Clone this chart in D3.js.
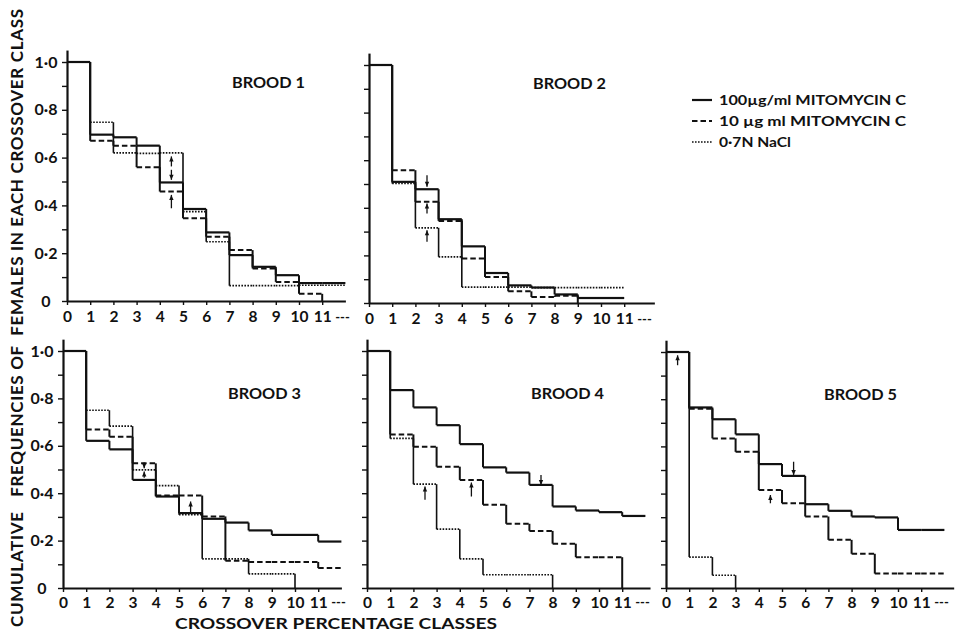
<!DOCTYPE html>
<html><head><meta charset="utf-8">
<script src="https://cdn.jsdelivr.net/npm/d3@7"></script>
<style>
body{margin:0;background:#fff;}
svg{display:block;}
text{font-family:Lato,"DejaVu Sans",sans-serif;font-weight:700;fill:#111;}
</style></head><body>
<svg id="c" width="956" height="634"></svg>
<script>
// ---------- data ----------
const classLabels = ["0","1","2","3","4","5","6","7","8","9","10","11"];
const yTickValues = [0,0.1,0.2,0.3,0.4,0.5,0.6,0.7,0.8,0.9,1.0];
const yTickLabels = {"0":"0","0.2":"0·2","0.4":"0·4","0.6":"0·6","0.8":"0·8","1":"1·0"};
const broodNames = ["BROOD 1","BROOD 2","BROOD 3","BROOD 4","BROOD 5"];
const seriesNames = ["100µg/ml MITOMYCIN C","10 µg ml MITOMYCIN C","0·7N NaCl"];
const xLabel = "CROSSOVER PERCENTAGE CLASSES";
const yLabel = "CUMULATIVE   FREQUENCIES OF  FEMALES IN EACH CROSSOVER CLASS";
// class where series that do not fall to zero stop
const tailEnd = [12, 11, 12, 12, 12];

// cumulative frequency in each class (a final 0 = drop to zero at that class)
const b1High = [1.0,0.696,0.685,0.65,0.496,0.385,0.287,0.192,0.143,0.108,0.075,0.075];
const b1Low  = [1.0,0.67,0.65,0.56,0.458,0.346,0.269,0.213,0.136,0.08,0.03,0];
const b1NaCl = [1.0,0.748,0.62,0.618,0.62,0.374,0.248,0.064,0.064,0.064,0.066,0.066];

const b2High = [1.0,0.509,0.478,0.352,0.238,0.126,0.074,0.065,0.036,0.021,0.021];
const b2Low  = [1.0,0.558,0.425,0.345,0.187,0.109,0.049,0.025,0.03,0];
const b2NaCl = [1.0,0.502,0.316,0.194,0.067,0.067,0.067,0.065,0.065,0.065,0.065];

const b3High = [1.0,0.621,0.585,0.456,0.386,0.316,0.292,0.276,0.243,0.224,0.224,0.196];
const b3Low  = [1.0,0.669,0.638,0.526,0.39,0.39,0.302,0.115,0.11,0.11,0.11,0.084];
const b3NaCl = [1.0,0.75,0.683,0.498,0.432,0.309,0.123,0.123,0.06,0.06,0];

const b4High = [1.0,0.835,0.762,0.687,0.607,0.509,0.487,0.435,0.344,0.327,0.32,0.304];
const b4Low  = [1.0,0.648,0.596,0.512,0.456,0.351,0.271,0.241,0.187,0.13,0.13,0];
const b4NaCl = [1.0,0.631,0.438,0.248,0.123,0.056,0.056,0.056,0];

const b5High = [1.0,0.765,0.715,0.651,0.525,0.475,0.355,0.327,0.303,0.299,0.246,0.246];
const b5Low  = [1.0,0.76,0.634,0.577,0.415,0.359,0.303,0.204,0.145,0.061,0.061,0.061];
const b5NaCl = [1.0,0.131,0.054,0];

const broodSeries = [
  [b1High,b1Low,b1NaCl],[b2High,b2Low,b2NaCl],[b3High,b3Low,b3NaCl],
  [b4High,b4Low,b4NaCl],[b5High,b5Low,b5NaCl]
];

// median arrows: brood index, class position, tail value, head value
const arrowBrood = [0,0,0, 1,1,1, 2,2,2, 3,3,3, 4,4,4];
const arrowX     = [4.5,4.5,4.5, 2.5,2.5,2.5, 3.5,3.5,5.5, 2.5,4.5,7.5, 0.5,4.5,5.5];
const arrowFrom  = [0.563,0.549,0.388, 0.537,0.376,0.257, 0.53,0.465,0.316, 0.372,0.386,0.477, 0.944,0.359,0.535];
const arrowTo    = [0.605,0.507,0.444, 0.488,0.418,0.306, 0.505,0.492,0.365, 0.428,0.445,0.435, 0.986,0.394,0.479];

// ---------- layout ----------
const panelLeft   = [67, 369, 63, 367, 666];
const panelBottom = [301, 303, 588, 588, 588];
const unitH       = [239, 238, 237, 237, 236];
const stepW = 23.2;
const axisEnd = [12.0, 12.3, 12.0, 12.2, 12.4];
const labelledY = [true, false, true, false, false];
const broodLabelPos = [[232,88],[533,89],[228,399],[531,399],[824,400]];

const svg = d3.select("#c");
const styles = [
  {w:2.2, dash:null},
  {w:2.0, dash:"5.5,3"},
  {w:1.7, dash:"1.6,1.4"}
];

broodSeries.forEach((series, b) => {
  const x = d3.scaleLinear().domain([0, axisEnd[b]])
    .range([panelLeft[b], panelLeft[b] + axisEnd[b]*stepW]);
  const y = d3.scaleLinear().domain([0, 1.05])
    .range([panelBottom[b], panelBottom[b] - 1.05*unitH[b]]);
  const g = svg.append("g");

  // x axis
  const xa = g.append("g").attr("transform", `translate(0,${panelBottom[b]})`)
    .call(d3.axisBottom(x).tickValues(d3.range(0,12)).tickSizeInner(4).tickSizeOuter(0)
      .tickPadding(b < 2 ? 6 : 5).tickFormat(i => classLabels[i]));
  xa.select(".domain").attr("stroke","#111").attr("stroke-width",2.2);
  xa.selectAll(".tick line").attr("stroke","#111").attr("stroke-width",1.4);
  xa.selectAll(".tick text").attr("font-size",15.5).attr("fill","#111")
    .attr("font-family","Lato,'DejaVu Sans',sans-serif").attr("font-weight",700);
  xa.append("text").attr("x", x(11)+13).attr("y", b < 2 ? 21 : 19)
    .attr("font-size",13).attr("text-anchor","start").attr("fill","#111").text("---");

  // y axis
  const ya = g.append("g").attr("transform", `translate(${panelLeft[b]},0)`)
    .call(d3.axisLeft(y).tickValues(yTickValues).tickSizeInner(5).tickSizeOuter(0)
      .tickFormat(v => labelledY[b] ? (yTickLabels[String(+v.toFixed(1))] || "") : ""));
  ya.select(".domain").attr("stroke","#111").attr("stroke-width",2.2);
  ya.selectAll(".tick line").attr("stroke","#111").attr("stroke-width",1.4);
  ya.selectAll(".tick text").attr("font-size",16).attr("fill","#111")
    .attr("font-family","Lato,'DejaVu Sans',sans-serif").attr("font-weight",700)
    .attr("x",-21).attr("text-anchor","middle");

  // steps
  series.forEach((vals, s) => {
    const last = vals[vals.length-1];
    const endX = last > 0 ? tailEnd[b] : vals.length-1;
    const horiz = [], vert = [];
    vals.forEach((v, i) => {
      if (i === vals.length-1 && last === 0) return;
      const x1 = (i === vals.length-1) ? endX : i+1;
      horiz.push([i, x1, v]);
      if (i+1 < vals.length) vert.push([i+1, v, vals[i+1]]);
    });
    g.selectAll(null).data(vert).enter().append("line")
      .attr("x1", d => x(d[0])).attr("x2", d => x(d[0]))
      .attr("y1", d => y(d[1])).attr("y2", d => y(d[2]))
      .attr("stroke","#111").attr("stroke-width", s === 2 ? 1.6 : 2.0);
    g.selectAll(null).data(horiz).enter().append("line")
      .attr("x1", d => x(d[0])).attr("x2", d => x(d[1]))
      .attr("y1", d => y(d[2])).attr("y2", d => y(d[2]))
      .attr("stroke","#111").attr("stroke-width", styles[s].w)
      .attr("stroke-dasharray", styles[s].dash);
  });

  // arrows
  arrowBrood.forEach((ab, k) => {
    if (ab !== b) return;
    const ax = x(arrowX[k]), y0 = y(arrowFrom[k]), y1 = y(arrowTo[k]);
    const dir = y1 < y0 ? 1 : -1;
    g.append("line").attr("x1",ax).attr("x2",ax).attr("y1",y0).attr("y2",y1)
      .attr("stroke","#111").attr("stroke-width",1.3);
    g.append("path").attr("d",`M${ax},${y1} L${ax-2.2},${y1+5*dir} L${ax+2.2},${y1+5*dir} Z`)
      .attr("fill","#111");
  });

  g.append("text").attr("x", broodLabelPos[b][0]).attr("y", broodLabelPos[b][1])
    .attr("font-size",16).attr("textLength",73).attr("lengthAdjust","spacingAndGlyphs")
    .text(broodNames[b]);
});

// legend
const legendY = [100, 121, 142];
const legendW = [187, 187, 72];
seriesNames.forEach((name, s) => {
  svg.append("line").attr("x1",692).attr("x2",712)
    .attr("y1",legendY[s]).attr("y2",legendY[s])
    .attr("stroke","#111").attr("stroke-width",styles[s].w)
    .attr("stroke-dasharray",styles[s].dash);
  svg.append("text").attr("x",719).attr("y",legendY[s]+5).attr("font-size",14)
    .attr("textLength",legendW[s]).attr("lengthAdjust","spacingAndGlyphs")
    .text(name);
});

// axis titles
svg.append("text").attr("x",175).attr("y",629).attr("font-size",16)
  .attr("textLength",322).attr("lengthAdjust","spacingAndGlyphs").text(xLabel);
svg.append("text").attr("transform","translate(23,627) rotate(-90)")
  .attr("font-size",17).attr("textLength",618).attr("lengthAdjust","spacing")
  .style("white-space","pre").text(yLabel);
</script>
</body></html>
